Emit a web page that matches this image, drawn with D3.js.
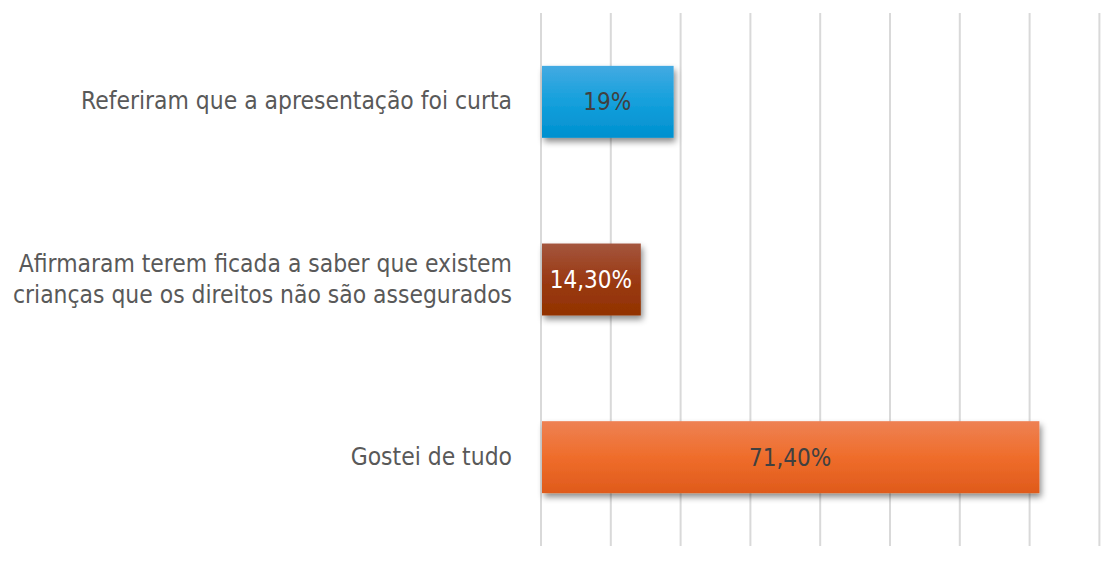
<!DOCTYPE html>
<html>
<head>
<meta charset="utf-8">
<script src="https://cdn.jsdelivr.net/npm/d3@7"></script>
<style>
  body { margin: 0; background: #fff; }
  svg { display: block; }
</style>
</head>
<body>
<svg></svg>
<script>
// data
const categories = [
  ["Referiram que a apresentação foi curta"],
  ["Afirmaram terem ficada  a saber que existem", "crianças que os direitos não são assegurados"],
  ["Gostei de tudo"]
];
const values = [19, 14.3, 71.4];
const valueLabels = ["19%", "14,30%", "71,40%"];
const tickValues = [0, 10, 20, 30, 40, 50, 60, 70, 80];

const barColors = [
  { top: "#43aae2", mid: "#14a0dc", bottom: "#0090cf", text: "#404040" },
  { top: "#a4563e", mid: "#9a3a14", bottom: "#923200", text: "#ffffff" },
  { top: "#ee8153", mid: "#ef6d2b", bottom: "#df5a1b", text: "#404040" }
];

const width = 1115, height = 566;
const margin = {top: 13, right: 16, bottom: 20, left: 541};

const svg = d3.select("svg")
  .attr("width", width)
  .attr("height", height);

const x = d3.scaleLinear()
  .domain([0, 80])
  .range([margin.left, margin.left + 69.8 * 8]);

const y = d3.scaleBand()
  .domain(d3.range(categories.length))
  .range([margin.top, height - margin.bottom])
  .paddingInner(0.595)
  .paddingOuter(0.2975);

const defs = svg.append("defs");

barColors.forEach((c, i) => {
  const g = defs.append("linearGradient")
    .attr("id", "grad" + i)
    .attr("x1", 0).attr("y1", 0).attr("x2", 0).attr("y2", 1);
  g.append("stop").attr("offset", "0%").attr("stop-color", c.top);
  g.append("stop").attr("offset", "50%").attr("stop-color", c.mid);
  g.append("stop").attr("offset", "100%").attr("stop-color", c.bottom);
});

const shadow = defs.append("filter")
  .attr("id", "shadow")
  .attr("x", "-10%").attr("y", "-20%")
  .attr("width", "130%").attr("height", "160%");
shadow.append("feDropShadow")
  .attr("dx", 2).attr("dy", 4)
  .attr("stdDeviation", 3)
  .attr("flood-color", "#000")
  .attr("flood-opacity", 0.45);

// gridlines
svg.append("g")
  .selectAll("line")
  .data(tickValues)
  .enter().append("line")
  .attr("x1", d => x(d))
  .attr("x2", d => x(d))
  .attr("y1", margin.top)
  .attr("y2", height - margin.bottom)
  .attr("stroke", "#d9d9d9")
  .attr("stroke-width", 2);

// bars
svg.append("g")
  .selectAll("rect")
  .data(values)
  .enter().append("rect")
  .attr("x", x(0) + 1)
  .attr("y", (d, i) => y(i))
  .attr("width", d => x(d) - x(0) - 1)
  .attr("height", y.bandwidth())
  .attr("fill", (d, i) => "url(#grad" + i + ")")
  .attr("filter", "url(#shadow)");

// value labels
svg.append("g")
  .selectAll("text")
  .data(values)
  .enter().append("text")
  .attr("x", d => (x(0) + x(d)) / 2)
  .attr("y", (d, i) => y(i) + y.bandwidth() / 2)
  .attr("dy", "0.35em")
  .attr("text-anchor", "middle")
  .style("font-family", "'DejaVu Sans Condensed', 'DejaVu Sans', sans-serif")
  .style("font-size", "24px")
  .style("fill", (d, i) => barColors[i].text)
  .text((d, i) => valueLabels[i]);

// category labels
const lineH = 31;
const cat = svg.append("g")
  .selectAll("text")
  .data(categories)
  .enter().append("text")
  .attr("text-anchor", "end")
  .attr("x", 512)
  .attr("y", (d, i) => y(i) + y.bandwidth() / 2 - (d.length - 1) * lineH / 2 - 1)
  .style("font-family", "'DejaVu Sans Condensed', 'DejaVu Sans', sans-serif")
  .style("font-size", "24.4px")
  .style("fill", "#595959");

cat.selectAll("tspan")
  .data(d => d)
  .enter().append("tspan")
  .attr("x", 512)
  .attr("dy", (d, i) => i === 0 ? "0.35em" : lineH)
  .text(d => d);
</script>
</body>
</html>
